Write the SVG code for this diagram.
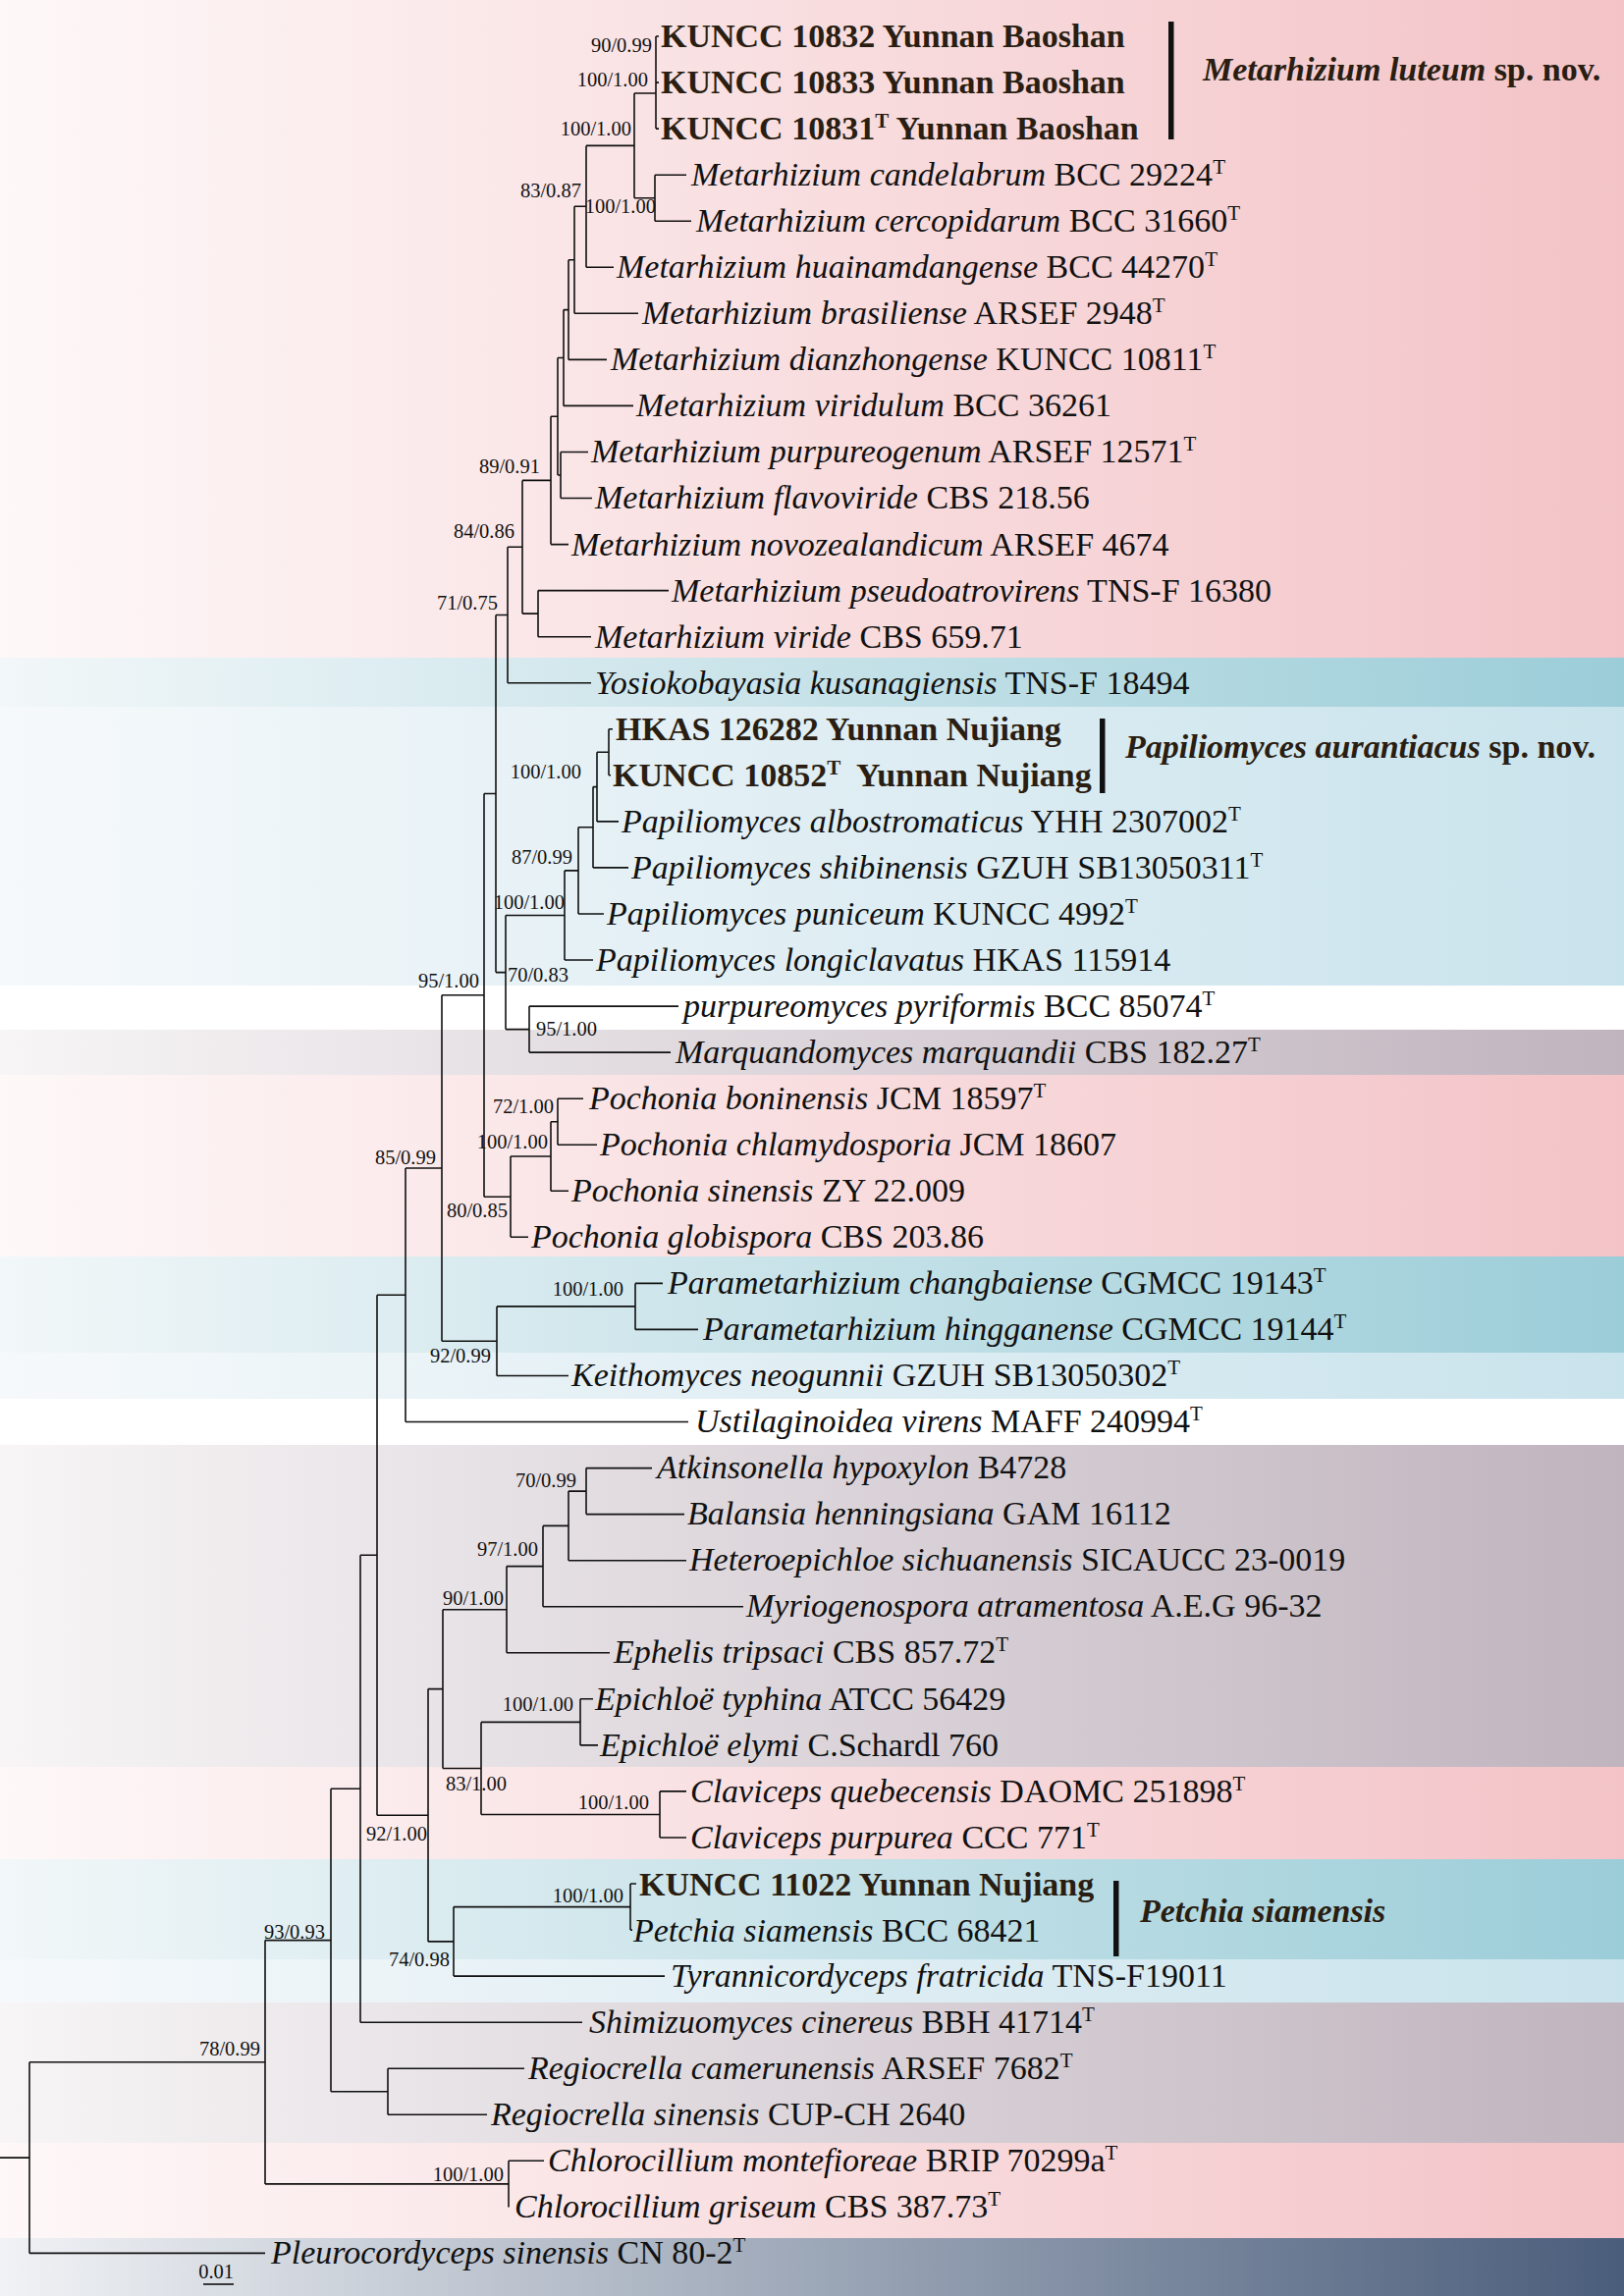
<svg xmlns="http://www.w3.org/2000/svg" width="1654" height="2339" viewBox="0 0 1654 2339">
<style>
.t{font-family:"Liberation Serif","Times New Roman",serif;font-size:34px;fill:#111}
.i{font-style:italic}
.b{font-weight:bold;fill:#2a1e12}
.sup{font-size:21px;font-style:normal}
.s{font-family:"Liberation Serif","Times New Roman",serif;font-size:20.5px;fill:#111;text-anchor:end}
.cl{font-family:"Liberation Serif","Times New Roman",serif;font-size:34px;font-weight:bold;fill:#2a1e12}
#connectors path{fill:none;stroke:#111;stroke-width:1.6}
.bar{fill:#111}
</style>
<defs>
<linearGradient id="gPink" x1="0" y1="0" x2="1" y2="0"><stop offset="0" stop-color="#fef8f8"/><stop offset="1" stop-color="#f3c3c7"/></linearGradient>
<linearGradient id="gTeal" x1="0" y1="0" x2="1" y2="0"><stop offset="0" stop-color="#f2f7f9"/><stop offset="1" stop-color="#9bcdd8"/></linearGradient>
<linearGradient id="gLight" x1="0" y1="0" x2="1" y2="0"><stop offset="0" stop-color="#f6f9fb"/><stop offset="1" stop-color="#c9e3ec"/></linearGradient>
<linearGradient id="gMauve" x1="0" y1="0" x2="1" y2="0"><stop offset="0" stop-color="#f7f5f6"/><stop offset="1" stop-color="#c0b4be"/></linearGradient>
<linearGradient id="gSlate" x1="0" y1="0" x2="1" y2="0"><stop offset="0" stop-color="#f0f2f5"/><stop offset="1" stop-color="#4a5d7b"/></linearGradient>
</defs>
<rect x="0" y="0" width="1654" height="2339" fill="#fff"/>
<g id="bands">
<rect x="0" y="0" width="1654" height="670" fill="url(#gPink)"/>
<rect x="0" y="670" width="1654" height="50" fill="url(#gTeal)"/>
<rect x="0" y="720" width="1654" height="284" fill="url(#gLight)"/>
<rect x="0" y="1049" width="1654" height="46" fill="url(#gMauve)"/>
<rect x="0" y="1095" width="1654" height="185" fill="url(#gPink)"/>
<rect x="0" y="1280" width="1654" height="98" fill="url(#gTeal)"/>
<rect x="0" y="1378" width="1654" height="47" fill="url(#gLight)"/>
<rect x="0" y="1472" width="1654" height="328" fill="url(#gMauve)"/>
<rect x="0" y="1800" width="1654" height="94" fill="url(#gPink)"/>
<rect x="0" y="1894" width="1654" height="102" fill="url(#gTeal)"/>
<rect x="0" y="1996" width="1654" height="44" fill="url(#gLight)"/>
<rect x="0" y="2040" width="1654" height="143" fill="url(#gMauve)"/>
<rect x="0" y="2183" width="1654" height="97" fill="url(#gPink)"/>
<rect x="0" y="2280" width="1654" height="59" fill="url(#gSlate)"/>
</g>
<g id="connectors">
<path d="M668 37V131M668 37H671M668 84.1H671M668 131.1H671"/>
<path d="M667 178.2V225.2M667 178.2H699M667 225.2H704"/>
<path d="M646 95V201.7M646 95H668M646 201.7H667"/>
<path d="M597 148.4V272.3M597 148.4H646M597 272.3H625"/>
<path d="M585 210.3V319.3M585 210.3H597M585 319.3H650"/>
<path d="M579 264.8V366.4M579 264.8H585M579 366.4H618"/>
<path d="M574 315.6V413.4M574 315.6H579M574 413.4H645"/>
<path d="M571 460.5V507.5M571 460.5H599M571 507.5H603"/>
<path d="M568 364.5V484M568 364.5H574M568 484H571"/>
<path d="M561 424.3V554.6M561 424.3H568M561 554.6H579"/>
<path d="M548 601.6V648.7M548 601.6H681M548 648.7H602"/>
<path d="M532 489.4V625.1M532 489.4H561M532 625.1H548"/>
<path d="M517 557.3V695.7M517 557.3H532M517 695.7H602"/>
<path d="M620 742.8V789.8M620 742.8H624M620 789.8H622"/>
<path d="M608 766.3V836.9M608 766.3H620M608 836.9H630"/>
<path d="M604 801.6V883.9M604 801.6H608M604 883.9H640"/>
<path d="M589 842.8V931M589 842.8H604M589 931H615"/>
<path d="M575 886.9V978M575 886.9H589M575 978H604"/>
<path d="M539 1025.1V1072.1M539 1025.1H691M539 1072.1H683"/>
<path d="M515 932.5V1048.6M515 932.5H575M515 1048.6H539"/>
<path d="M505 626.5V990.6M505 626.5H517M505 990.6H515"/>
<path d="M568 1119.2V1166.2M568 1119.2H594M568 1166.2H608"/>
<path d="M561 1142.7V1213.3M561 1142.7H568M561 1213.3H579"/>
<path d="M520 1178V1260.3M520 1178H561M520 1260.3H538"/>
<path d="M493 808.5V1219.2M493 808.5H505M493 1219.2H520"/>
<path d="M647 1307.4V1354.4M647 1307.4H675M647 1354.4H711"/>
<path d="M506 1330.9V1401.5M506 1330.9H647M506 1401.5H579"/>
<path d="M450 1013.8V1366.2M450 1013.8H493M450 1366.2H506"/>
<path d="M413 1190V1448.5M413 1190H450M413 1448.5H701"/>
<path d="M597 1495.6V1542.6M597 1495.6H664M597 1542.6H697"/>
<path d="M579 1519.1V1589.7M579 1519.1H597M579 1589.7H699"/>
<path d="M553 1554.4V1636.7M553 1554.4H579M553 1636.7H757"/>
<path d="M516 1595.6V1683.8M516 1595.6H553M516 1683.8H621"/>
<path d="M591 1730.8V1777.9M591 1730.8H604M591 1777.9H609"/>
<path d="M672 1824.9V1872M672 1824.9H699M672 1872H699"/>
<path d="M490 1754.4V1848.5M490 1754.4H591M490 1848.5H672"/>
<path d="M451 1639.7V1801.5M451 1639.7H516M451 1801.5H490"/>
<path d="M642 1919V1966.1M642 1919H648M642 1966.1H644"/>
<path d="M462 1942.6V2013.1M462 1942.6H642M462 2013.1H677"/>
<path d="M436 1720.6V1977.9M436 1720.6H451M436 1977.9H462"/>
<path d="M384 1319.3V1849.3M384 1319.3H413M384 1849.3H436"/>
<path d="M367 1584.3V2060.2M367 1584.3H384M367 2060.2H593"/>
<path d="M395 2107.2V2154.3M395 2107.2H534M395 2154.3H496"/>
<path d="M337 1822.3V2130.8M337 1822.3H367M337 2130.8H395"/>
<path d="M518 2201.3V2248.4M518 2201.3H554"/>
<path d="M270 1976.6V2224.9M270 1976.6H337M270 2224.9H518"/>
<path d="M30 2100.8V2295.4M30 2100.8H270M30 2295.4H270M0 2198.1H30"/>
<path d="M207 2327H238"/>
</g>
<g id="support">
<text class="s" x="664" y="53">90/0.99</text>
<text class="s" x="660" y="88">100/1.00</text>
<text class="s" x="643" y="138">100/1.00</text>
<text class="s" x="592" y="201">83/0.87</text>
<text class="s" x="668" y="217">100/1.00</text>
<text class="s" x="550" y="482">89/0.91</text>
<text class="s" x="524" y="548">84/0.86</text>
<text class="s" x="507" y="621">71/0.75</text>
<text class="s" x="592" y="793">100/1.00</text>
<text class="s" x="583" y="880">87/0.99</text>
<text class="s" x="575" y="926">100/1.00</text>
<text class="s" x="579" y="1000">70/0.83</text>
<text class="s" x="488" y="1006">95/1.00</text>
<text class="s" x="608" y="1055">95/1.00</text>
<text class="s" x="564" y="1134">72/1.00</text>
<text class="s" x="558" y="1170">100/1.00</text>
<text class="s" x="444" y="1186">85/0.99</text>
<text class="s" x="517" y="1240">80/0.85</text>
<text class="s" x="635" y="1320">100/1.00</text>
<text class="s" x="500" y="1388">92/0.99</text>
<text class="s" x="587" y="1515">70/0.99</text>
<text class="s" x="548" y="1585">97/1.00</text>
<text class="s" x="513" y="1635">90/1.00</text>
<text class="s" x="584" y="1743">100/1.00</text>
<text class="s" x="516" y="1824">83/1.00</text>
<text class="s" x="661" y="1843">100/1.00</text>
<text class="s" x="435" y="1875">92/1.00</text>
<text class="s" x="635" y="1938">100/1.00</text>
<text class="s" x="331" y="1975">93/0.93</text>
<text class="s" x="458" y="2003">74/0.98</text>
<text class="s" x="265" y="2094">78/0.99</text>
<text class="s" x="513" y="2222">100/1.00</text>
<text class="s" x="238" y="2321">0.01</text>
</g>
<g id="taxon-01"><text class="t b" x="673" y="48">KUNCC 10832 Yunnan Baoshan</text></g>
<g id="taxon-02"><text class="t b" x="673" y="95">KUNCC 10833 Yunnan Baoshan</text></g>
<g id="taxon-03"><text class="t b" x="673" y="142">KUNCC 10831<tspan class="sup" dy="-12">T</tspan><tspan dy="12"> Yunnan Baoshan</tspan></text></g>
<g id="taxon-04"><text class="t" x="704" y="189"><tspan class="i">Metarhizium candelabrum</tspan> BCC 29224<tspan class="sup" dy="-12">T</tspan></text></g>
<g id="taxon-05"><text class="t" x="709" y="236"><tspan class="i">Metarhizium cercopidarum</tspan> BCC 31660<tspan class="sup" dy="-12">T</tspan></text></g>
<g id="taxon-06"><text class="t" x="628" y="283"><tspan class="i">Metarhizium huainamdangense</tspan> BCC 44270<tspan class="sup" dy="-12">T</tspan></text></g>
<g id="taxon-07"><text class="t" x="654" y="330"><tspan class="i">Metarhizium brasiliense</tspan> ARSEF 2948<tspan class="sup" dy="-12">T</tspan></text></g>
<g id="taxon-08"><text class="t" x="622" y="377"><tspan class="i">Metarhizium dianzhongense</tspan> KUNCC 10811<tspan class="sup" dy="-12">T</tspan></text></g>
<g id="taxon-09"><text class="t" x="648" y="424"><tspan class="i">Metarhizium viridulum</tspan> BCC 36261</text></g>
<g id="taxon-10"><text class="t" x="602" y="471"><tspan class="i">Metarhizium purpureogenum</tspan> ARSEF 12571<tspan class="sup" dy="-12">T</tspan></text></g>
<g id="taxon-11"><text class="t" x="606" y="518"><tspan class="i">Metarhizium flavoviride</tspan> CBS 218.56</text></g>
<g id="taxon-12"><text class="t" x="582" y="566"><tspan class="i">Metarhizium novozealandicum</tspan> ARSEF 4674</text></g>
<g id="taxon-13"><text class="t" x="684" y="613"><tspan class="i">Metarhizium pseudoatrovirens</tspan> TNS-F 16380</text></g>
<g id="taxon-14"><text class="t" x="606" y="660"><tspan class="i">Metarhizium viride</tspan> CBS 659.71</text></g>
<g id="taxon-15"><text class="t" x="606" y="707"><tspan class="i">Yosiokobayasia kusanagiensis</tspan> TNS-F 18494</text></g>
<g id="taxon-16"><text class="t b" x="627" y="754">HKAS 126282 Yunnan Nujiang</text></g>
<g id="taxon-17"><text class="t b" x="624" y="801">KUNCC 10852<tspan class="sup" dy="-12">T</tspan><tspan dy="12" xml:space="preserve">  Yunnan Nujiang</tspan></text></g>
<g id="taxon-18"><text class="t" x="633" y="848"><tspan class="i">Papiliomyces albostromaticus</tspan> YHH 2307002<tspan class="sup" dy="-12">T</tspan></text></g>
<g id="taxon-19"><text class="t" x="643" y="895"><tspan class="i">Papiliomyces shibinensis</tspan> GZUH SB13050311<tspan class="sup" dy="-12">T</tspan></text></g>
<g id="taxon-20"><text class="t" x="618" y="942"><tspan class="i">Papiliomyces puniceum</tspan> KUNCC 4992<tspan class="sup" dy="-12">T</tspan></text></g>
<g id="taxon-21"><text class="t" x="607" y="989"><tspan class="i">Papiliomyces longiclavatus</tspan> HKAS 115914</text></g>
<g id="taxon-22"><text class="t" x="696" y="1036"><tspan class="i">purpureomyces pyriformis</tspan> BCC 85074<tspan class="sup" dy="-12">T</tspan></text></g>
<g id="taxon-23"><text class="t" x="688" y="1083"><tspan class="i">Marquandomyces marquandii</tspan> CBS 182.27<tspan class="sup" dy="-12">T</tspan></text></g>
<g id="taxon-24"><text class="t" x="600" y="1130"><tspan class="i">Pochonia boninensis</tspan> JCM 18597<tspan class="sup" dy="-12">T</tspan></text></g>
<g id="taxon-25"><text class="t" x="611" y="1177"><tspan class="i">Pochonia chlamydosporia</tspan> JCM 18607</text></g>
<g id="taxon-26"><text class="t" x="582" y="1224"><tspan class="i">Pochonia sinensis</tspan> ZY 22.009</text></g>
<g id="taxon-27"><text class="t" x="541" y="1271"><tspan class="i">Pochonia globispora</tspan> CBS 203.86</text></g>
<g id="taxon-28"><text class="t" x="680" y="1318"><tspan class="i">Parametarhizium changbaiense</tspan> CGMCC 19143<tspan class="sup" dy="-12">T</tspan></text></g>
<g id="taxon-29"><text class="t" x="716" y="1365"><tspan class="i">Parametarhizium hingganense</tspan> CGMCC 19144<tspan class="sup" dy="-12">T</tspan></text></g>
<g id="taxon-30"><text class="t" x="582" y="1412"><tspan class="i">Keithomyces neogunnii</tspan> GZUH SB13050302<tspan class="sup" dy="-12">T</tspan></text></g>
<g id="taxon-31"><text class="t" x="708" y="1459"><tspan class="i">Ustilaginoidea virens</tspan> MAFF 240994<tspan class="sup" dy="-12">T</tspan></text></g>
<g id="taxon-32"><text class="t" x="669" y="1506"><tspan class="i">Atkinsonella hypoxylon</tspan> B4728</text></g>
<g id="taxon-33"><text class="t" x="700" y="1553"><tspan class="i">Balansia henningsiana</tspan> GAM 16112</text></g>
<g id="taxon-34"><text class="t" x="702" y="1600"><tspan class="i">Heteroepichloe sichuanensis</tspan> SICAUCC 23-0019</text></g>
<g id="taxon-35"><text class="t" x="760" y="1647"><tspan class="i">Myriogenospora atramentosa</tspan> A.E.G 96-32</text></g>
<g id="taxon-36"><text class="t" x="625" y="1694"><tspan class="i">Ephelis tripsaci</tspan> CBS 857.72<tspan class="sup" dy="-12">T</tspan></text></g>
<g id="taxon-37"><text class="t" x="606" y="1742"><tspan class="i">Epichloë typhina</tspan> ATCC 56429</text></g>
<g id="taxon-38"><text class="t" x="611" y="1789"><tspan class="i">Epichloë elymi</tspan> C.Schardl 760</text></g>
<g id="taxon-39"><text class="t" x="703" y="1836"><tspan class="i">Claviceps quebecensis</tspan> DAOMC 251898<tspan class="sup" dy="-12">T</tspan></text></g>
<g id="taxon-40"><text class="t" x="703" y="1883"><tspan class="i">Claviceps purpurea</tspan> CCC 771<tspan class="sup" dy="-12">T</tspan></text></g>
<g id="taxon-41"><text class="t b" x="651" y="1931">KUNCC 11022 Yunnan Nujiang</text></g>
<g id="taxon-42"><text class="t" x="645" y="1978"><tspan class="i">Petchia siamensis</tspan> BCC 68421</text></g>
<g id="taxon-43"><text class="t" x="683" y="2024"><tspan class="i">Tyrannicordyceps fratricida</tspan> TNS-F19011</text></g>
<g id="taxon-44"><text class="t" x="600" y="2071"><tspan class="i">Shimizuomyces cinereus</tspan> BBH 41714<tspan class="sup" dy="-12">T</tspan></text></g>
<g id="taxon-45"><text class="t" x="538" y="2118"><tspan class="i">Regiocrella camerunensis</tspan> ARSEF 7682<tspan class="sup" dy="-12">T</tspan></text></g>
<g id="taxon-46"><text class="t" x="500" y="2165"><tspan class="i">Regiocrella sinensis</tspan> CUP-CH 2640</text></g>
<g id="taxon-47"><text class="t" x="558" y="2212"><tspan class="i">Chlorocillium montefioreae</tspan> BRIP 70299a<tspan class="sup" dy="-12">T</tspan></text></g>
<g id="taxon-48"><text class="t" x="524" y="2259"><tspan class="i">Chlorocillium griseum</tspan> CBS 387.73<tspan class="sup" dy="-12">T</tspan></text></g>
<g id="taxon-49"><text class="t" x="276" y="2306"><tspan class="i">Pleurocordyceps sinensis</tspan> CN 80-2<tspan class="sup" dy="-12">T</tspan></text></g>
<g id="clade-metarhizium-luteum">
<rect class="bar" x="1190" y="22" width="5.5" height="120"/>
<text class="cl" x="1225" y="82"><tspan font-style="italic">Metarhizium luteum</tspan> sp. nov.</text>
</g>
<g id="clade-papiliomyces-aurantiacus">
<rect class="bar" x="1120" y="732" width="5.5" height="76"/>
<text class="cl" x="1146" y="772"><tspan font-style="italic">Papiliomyces aurantiacus</tspan> sp. nov.</text>
</g>
<g id="clade-petchia-siamensis">
<rect class="bar" x="1134" y="1916" width="5.5" height="77"/>
<text class="cl" x="1161" y="1958"><tspan font-style="italic">Petchia siamensis</tspan></text>
</g>
</svg>
